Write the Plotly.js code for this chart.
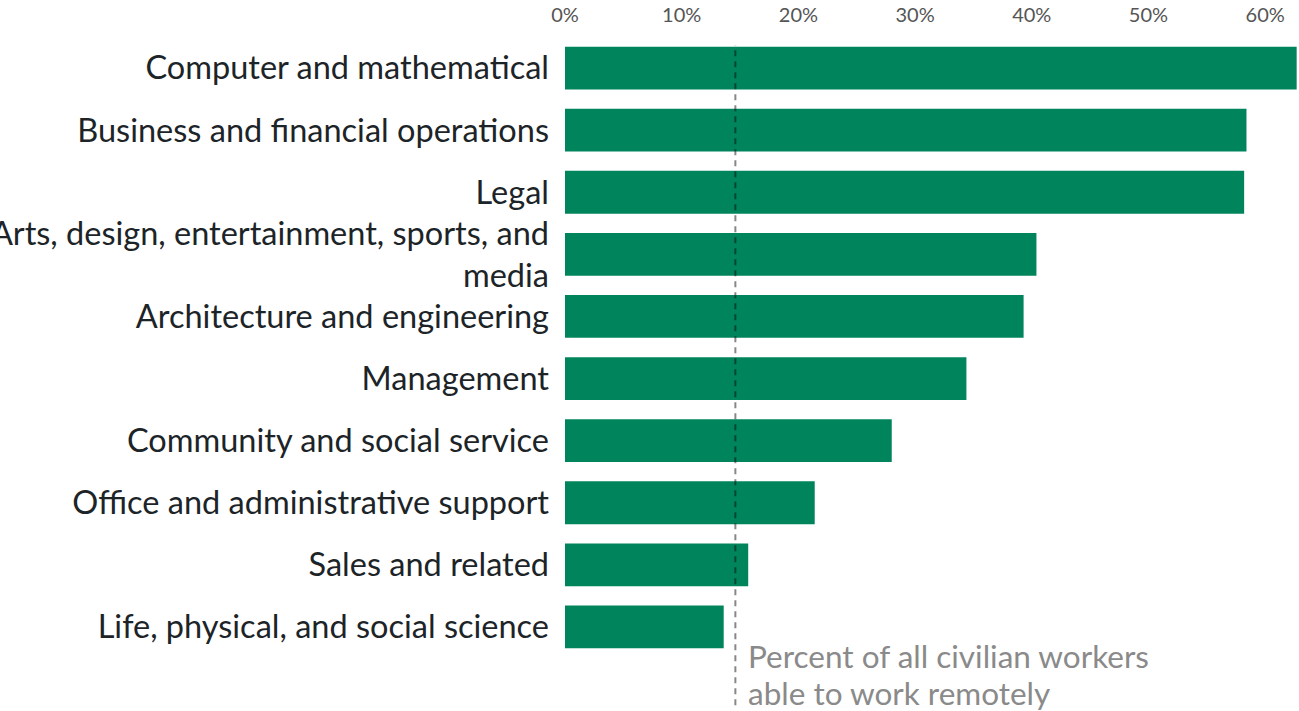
<!DOCTYPE html>
<html>
<head>
<meta charset="utf-8">
<script src="https://cdn.plot.ly/plotly-3.0.1.min.js"></script>
<style>html,body{margin:0;padding:0;background:#fff;}#chart{width:1299px;height:711px;}</style>
</head>
<body>
<div id="chart"></div>
<script>
const categories = [
  "Computer and mathematical",
  "Business and financial operations",
  "Legal",
  "Arts, design, entertainment, sports, and<br>media",
  "Architecture and engineering",
  "Management",
  "Community and social service",
  "Office and administrative support",
  "Sales and related",
  "Life, physical, and social science"
];
const values = [62.7, 58.4, 58.2, 40.4, 39.3, 34.4, 28.0, 21.4, 15.7, 13.6];
const allWorkersPct = 14.6;
const tickValues = [0, 10, 20, 30, 40, 50, 60];
const tickLabels = ["0%", "10%", "20%", "30%", "40%", "50%", "60%"];
const noteLines = ["Percent of all civilian workers", "able to work remotely"];

const trace = {
  type: "bar",
  orientation: "h",
  x: values,
  y: categories,
  marker: {color: "#00845B"},
  width: 0.69,
  hoverinfo: "skip"
};

const noteY = [0.004, -0.057];

const layout = {
  width: 1299,
  height: 711,
  margin: {l: 565, r: 0, t: 37, b: 53, pad: 0},
  paper_bgcolor: "#ffffff",
  plot_bgcolor: "#ffffff",
  showlegend: false,
  font: {family: "Lato, 'Open Sans', sans-serif"},
  xaxis: {
    side: "top",
    range: [0, 62.9],
    tickvals: tickValues,
    ticktext: tickLabels,
    showgrid: false,
    zeroline: false,
    showline: false,
    ticks: "",
    ticklabelstandoff: 10,
    tickfont: {size: 20, color: "#555555"},
    fixedrange: true
  },
  yaxis: {
    autorange: "reversed",
    type: "category",
    showgrid: false,
    zeroline: false,
    showline: false,
    ticks: "",
    ticklabelstandoff: 15,
    tickfont: {size: 32.5, color: "#1c2428"},
    fixedrange: true
  },
  shapes: [{
    type: "line",
    xref: "x", yref: "paper",
    x0: allWorkersPct, x1: allWorkersPct,
    y0: -0.076, y1: 0.987,
    layer: "above",
    line: {color: "rgba(0,0,0,0.47)", width: 2, dash: "6px,5px"}
  }],
  annotations: noteLines.map((t, i) => ({
    xref: "x", yref: "paper",
    x: allWorkersPct, y: noteY[i],
    xanchor: "left", yanchor: "middle",
    xshift: 11,
    align: "left",
    showarrow: false,
    text: t,
    font: {size: 31.5, color: "#8a8a8a"}
  }))
};

Plotly.newPlot("chart", [trace], layout, {displayModeBar: false, staticPlot: true});
</script>
</body>
</html>
